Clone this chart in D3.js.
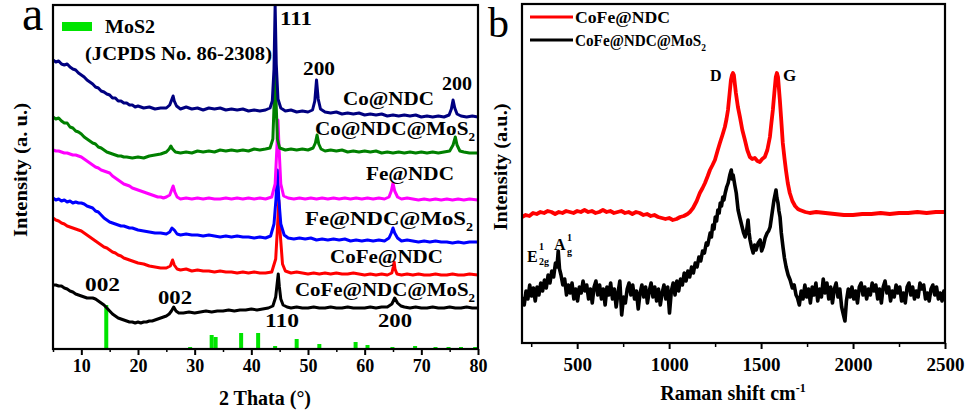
<!DOCTYPE html>
<html><head><meta charset="utf-8">
<script src="https://cdn.jsdelivr.net/npm/d3@7"></script>
<style>
body{margin:0;background:#fff}
svg text{font-family:"Liberation Serif","Times New Roman",serif;fill:#000}
</style>
</head><body>
<svg id="c" width="969" height="417"></svg>
<script>
// ---------- Panel a : XRD ----------
const xrdTicks = [10,20,30,40,50,60,70,80];
const xrdMinor = [5,15,25,35,45,55,65,75];
const coNDC = [[5,289],[5.5,287],[6,288],[6.5,285],[7,284],[7.5,285],[8,282],[8.5,280],[9,279],[9.5,276],[10,274],[10.5,272],[11,269],[11.5,267],[12,265],[12.5,262],[13,261],[13.5,258],[14,257],[14.5,255],[15,254],[15.5,251],[16,251],[16.5,248],[17,248],[17.5,246],[18,246],[18.5,244],[19,244],[19.5,242],[20,243],[21,241],[22,242],[23,240],[24,241],[25,241],[25.6,244],[26,250],[26.2,253],[26.4,248],[26.8,243],[27.5,240],[28.5,242],[29.5,240],[30.5,241],[31.5,239],[32.5,241],[33.5,240],[34.5,241],[35.5,239],[36.5,240],[37.5,239],[38.5,240],[39.5,238],[40.5,239],[41.5,238],[42.5,239],[43.3,241],[43.7,248],[44.0,280],[44.2,344],[44.4,285],[44.7,250],[45.2,241],[46,238],[47,239],[48,237],[49,238],[50,237],[50.8,239],[51.2,248],[51.5,269],[51.8,250],[52.2,240],[53,237],[54,236],[55,237],[56,235],[57,236],[58,235],[59,236],[60,234],[61,235],[62,234],[63,235],[64,233],[65,234],[66,233],[67,234],[68,233],[69,234],[70,232],[71,233],[72,232],[73,233],[74,232],[74.9,234],[75.3,240],[75.6,249],[75.9,241],[76.3,235],[77,233],[78,232],[79,233],[80,232]];
const coNDCMoS2 = [[5,232],[5.5,230],[6,231],[6.5,228],[7,226],[7.5,226],[8,222],[8.5,221],[9,218],[9.5,217],[10,215],[10.5,212],[11,210],[11.5,208],[12,206],[12.5,205],[13,202],[13.5,201],[14,199],[14.5,197],[15,196],[15.5,195],[16,194],[16.5,193],[17,193],[17.5,192],[18,192],[19,191],[20,192],[21,191],[22,193],[23,194],[24,195],[25,197],[25.5,200],[25.8,203],[26.1,200],[26.6,197],[27.5,196],[28.5,197],[29.5,196],[30.5,198],[31.5,197],[32.5,198],[33.5,197],[34.5,199],[35.5,198],[36.5,199],[37.5,198],[38.5,199],[39.5,198],[40.5,200],[41.5,199],[42.5,200],[43.3,201],[43.8,210],[44.05,250],[44.2,300],[44.35,250],[44.6,210],[45,201],[46,199],[47,200],[48,199],[49,200],[50,199],[50.9,201],[51.3,206],[51.6,214],[51.9,205],[52.3,200],[53,198],[54,199],[55,198],[56,199],[57,197],[58,198],[59,197],[60,198],[61,197],[62,198],[63,196],[64,197],[65,196],[66,197],[67,196],[68,197],[69,196],[70,197],[71,196],[72,197],[73,196],[74,197],[75,198],[75.6,204],[76,212],[76.3,204],[76.8,198],[77.5,197],[78.5,196],[80,196]];
const feNDC = [[5,199],[5.5,198],[6,198],[6.5,197],[7,196],[7.5,196],[8,195],[8.5,194],[9,194],[9.5,193],[10,192],[10.5,190],[11,188],[11.5,186],[12,184],[12.5,182],[13,181],[13.5,179],[14,178],[14.5,177],[15,176],[15.5,173],[16,171],[16.5,169],[17,167],[17.5,165],[18,164],[18.5,163],[19,161],[19.5,160],[20,159],[20.5,158],[21,157],[21.5,156],[22,155],[22.5,154],[23,153],[23.5,152],[24,152],[24.5,151],[25,152],[25.6,154],[26.0,160],[26.2,163],[26.5,157],[26.9,152],[27.5,150],[28.5,151],[29.5,150],[30.5,151],[31.5,150],[32.5,151],[33.5,150],[34.5,150],[35.5,151],[36.5,150],[37.5,151],[38.5,150],[39.5,151],[40.5,150],[41.5,151],[42.5,150],[43.6,152],[44.2,165],[44.5,200],[44.7,229],[44.9,200],[45.2,165],[45.7,153],[46.5,151],[47.5,150],[48.5,151],[49.5,150],[50.5,151],[51.5,150],[52.5,151],[53.5,150],[54.5,151],[55.5,150],[56.5,151],[57.5,150],[58.5,151],[59.5,150],[60.5,151],[61.5,150],[62.5,151],[63.5,150],[64.3,152],[64.7,158],[65.0,166],[65.3,158],[65.8,152],[66.5,150],[67.5,151],[68.5,150],[69.5,149],[70.5,150],[71.5,149],[72.5,150],[73.5,149],[74.5,150],[75.5,149],[76.5,150],[77.5,149],[78.5,150],[80,149]];
const feNDCMoS2 = [[5,151],[5.5,149],[6,150],[6.5,148],[7,149],[7.5,147],[8,148],[8.5,146],[9,147],[9.5,146],[10,146],[10.5,145],[11,143],[11.5,142],[12,141],[12.5,138],[13,137],[13.5,134],[14,131],[14.5,129],[15,127],[15.5,126],[16,125],[16.5,124],[17,123],[17.5,123],[18,122],[18.5,121],[19,121],[19.5,120],[20,119],[21,118],[22,117],[23,116],[24,116],[25,115],[25.6,117],[26.0,121],[26.4,119],[26.9,115],[27.5,114],[28.5,115],[29.5,114],[30.5,114],[31.5,113],[32.5,114],[33.5,113],[34.5,112],[35.5,113],[36.5,112],[37.5,113],[38.5,112],[39.5,112],[40.5,111],[41.5,112],[42.5,111],[43.4,113],[44.0,125],[44.35,150],[44.6,179],[44.85,150],[45.2,125],[45.8,114],[46.5,111],[47.5,110],[48.5,111],[49.5,110],[50.5,111],[51.5,109],[52.5,110],[53.5,109],[54.5,110],[55.5,109],[56.5,110],[57.5,108],[58.5,109],[59.5,108],[60.5,109],[61.5,108],[62.5,109],[63.5,108],[64.3,111],[64.7,116],[65.0,121],[65.3,116],[65.8,111],[66.5,108],[67.5,109],[68.5,108],[69.5,107],[70.5,108],[71.5,107],[72.5,108],[73.5,107],[74.5,107],[75.5,106],[76.5,107],[77.5,106],[78.5,107],[80,107]];
const coFeNDC = [[5,131],[5.5,129],[6,128],[6.5,126],[7,125],[7.5,123],[8,122],[8.5,121],[9,120],[9.5,119],[10,118],[10.5,116],[11,114],[11.5,112],[12,110],[12.5,108],[13,106],[13.5,104],[14,102],[14.5,101],[15,99],[15.5,97],[16,96],[16.5,94],[17,93],[17.5,91],[18,90],[18.5,89],[19,88],[19.5,87],[20,86],[21,85],[22,83],[23,82],[24,81],[25,81],[25.7,83],[26.1,89],[26.4,84],[26.9,80],[27.5,79],[28.5,80],[29.5,78],[30.5,79],[31.5,78],[32.5,78],[33.5,77],[34.5,78],[35.5,77],[36.5,77],[37.5,76],[38.5,77],[39.5,76],[40.5,77],[41.5,76],[42.5,76],[43.6,77],[44.3,90],[44.6,120],[44.85,149],[45.1,115],[45.5,85],[46,78],[47,76],[48,77],[49,76],[50,75],[51,76],[52,75],[53,76],[54,75],[55,76],[56,75],[57,75],[58,76],[59,75],[60,74],[61,75],[62,74],[63,75],[64,74],[64.8,76],[65.05,82],[65.2,87],[65.35,80],[65.7,75],[66.5,74],[67.5,75],[68.5,74],[69.5,75],[70.5,74],[71.5,74],[72.5,75],[73.5,74],[74.5,74],[75.5,75],[76.5,74],[77.5,74],[78.5,75],[80,74]];
const coFeNDCMoS2 = [[5,64],[5.5,64],[6,63],[6.5,63],[7,61],[7.5,60],[8,58],[8.5,57],[9,55],[9.5,54],[10,53],[10.5,52],[11,51],[11.5,51],[12,51],[12.5,50],[13,48],[13.5,46],[14,44],[14.5,41],[15,38],[15.5,35],[16,33],[16.5,31],[17,30],[17.5,29],[18,28],[18.5,27],[19,27],[19.5,26],[20,27],[20.5,26],[21,27],[21.5,27],[22,28],[22.5,28],[23,29],[23.5,30],[24,31],[24.5,32],[25,33],[25.5,35],[25.9,38],[26.3,42],[26.7,38],[27.2,36],[28,36],[29,37],[30,36],[31,37],[32,38],[33,37],[34,38],[35,38],[36,39],[37,38],[38,39],[39,39],[40,40],[41,39],[42,40],[43,41],[43.8,43],[44.3,52],[44.55,65],[44.75,75],[44.95,62],[45.2,50],[45.6,44],[46.3,42],[47,41],[48,42],[49,41],[50,41],[51,42],[52,41],[53,41],[54,42],[55,41],[56,41],[57,42],[58,41],[59,41],[60,41],[61,42],[62,41],[63,42],[64,42],[64.8,45],[65.3,51],[65.8,46],[66.4,43],[67,42],[68,41],[69,42],[70,41],[71,41],[72,42],[73,41],[74,41],[75,42],[76,41],[77,41],[78,42],[79,41],[80,41]];
const mos2Pos = [14.4,29.2,33.0,33.7,38.2,41.2,44.2,48.0,52.0,58.4,60.5,64.9,68.9,72.5,74.8,77.0,79.5];
const mos2Int = [44,2,14,12,16,16,3,10,5,7,4,2,3,2,2,2,2];

// ---------- Panel b : Raman ----------
const ramanTicks = [500,1000,1500,2000,2500];
const ramanMinor = [250,750,1250,1750,2250];
const ramanCoFeNDC = [[200,126],[220,128],[240,127],[260,130],[280,129],[300,131],[320,130],[340,132],[360,131],[380,129],[400,131],[420,130],[440,132],[460,131],[480,130],[500,132],[520,131],[540,133],[560,131],[580,132],[600,130],[620,131],[640,133],[660,131],[680,132],[700,130],[720,131],[740,132],[760,130],[780,131],[800,129],[820,131],[840,130],[860,128],[880,129],[900,127],[920,128],[940,126],[960,125],[980,124],[1000,125],[1020,123],[1040,124],[1060,126],[1080,127],[1100,129],[1113,131],[1130,135],[1150,142],[1167,150],[1182,155],[1195,160],[1210,167],[1222,173],[1236,178],[1249,183],[1263,192],[1276,200],[1290,208],[1303,216],[1312,224],[1320,233],[1328,248],[1336,263],[1342,268],[1347,270],[1352,268],[1358,258],[1363,250],[1374,236],[1385,226],[1398,213],[1412,203],[1425,193],[1439,186],[1452,184],[1466,185],[1480,182],[1493,181],[1506,184],[1520,186],[1534,193],[1548,206],[1556,220],[1564,233],[1572,250],[1580,266],[1586,270],[1592,266],[1602,243],[1610,222],[1618,200],[1627,185],[1635,173],[1645,160],[1656,150],[1670,142],[1685,137],[1700,134],[1711,133],[1740,131],[1765,130],[1800,131],[1850,130],[1900,129],[1950,128],[2000,128],[2050,129],[2100,129],[2150,130],[2200,129],[2250,130],[2300,130],[2350,131],[2400,130],[2450,131],[2500,131]];
const ramanCoFeNDCMoS2 = [[200,46],[212,38],[222,52],[232,44],[242,58],[252,47],[262,55],[272,42],[282,56],[292,48],[302,60],[312,52],[322,63],[332,55],[342,68],[352,60],[362,72],[372,66],[382,80],[390,76],[397,92],[404,74],[412,68],[422,58],[432,64],[442,48],[452,58],[462,50],[472,60],[482,44],[492,54],[502,42],[512,56],[522,50],[532,62],[542,52],[552,58],[562,44],[572,54],[582,40],[592,56],[602,62],[612,48],[622,58],[632,44],[642,54],[652,38],[662,56],[672,48],[682,60],[692,44],[702,54],[712,36],[722,50],[732,62],[742,28],[752,46],[762,40],[772,54],[782,60],[792,48],[802,58],[812,44],[822,52],[832,34],[842,50],[852,58],[862,46],[872,56],[882,40],[892,52],[902,60],[912,46],[922,56],[932,42],[942,54],[952,38],[962,50],[972,58],[982,44],[992,56],[1002,30],[1012,52],[1022,60],[1032,48],[1042,62],[1052,52],[1062,64],[1072,58],[1082,70],[1092,62],[1102,72],[1112,66],[1122,76],[1132,70],[1142,80],[1152,76],[1162,86],[1172,82],[1182,92],[1192,90],[1202,100],[1210,98],[1223,110],[1230,106],[1237,118],[1244,114],[1251,126],[1258,122],[1265,133],[1272,130],[1278,140],[1285,137],[1292,146],[1298,143],[1305,150],[1313,156],[1321,160],[1330,168],[1338,173],[1343,164],[1348,168],[1357,158],[1365,150],[1375,133],[1385,125],[1397,116],[1405,110],[1413,106],[1421,112],[1429,123],[1435,110],[1440,103],[1448,96],[1457,90],[1465,98],[1473,93],[1484,100],[1495,103],[1503,92],[1511,96],[1522,105],[1533,110],[1541,112],[1549,116],[1560,130],[1570,143],[1581,153],[1586,145],[1592,140],[1597,132],[1603,126],[1610,110],[1619,96],[1627,85],[1636,76],[1647,68],[1658,63],[1670,55],[1680,58],[1690,48],[1698,45],[1708,38],[1718,52],[1728,44],[1738,58],[1748,46],[1758,54],[1768,40],[1778,56],[1788,48],[1798,60],[1808,42],[1818,54],[1828,46],[1838,64],[1848,50],[1858,60],[1868,44],[1878,56],[1888,40],[1898,54],[1908,60],[1918,46],[1928,54],[1938,36],[1948,28],[1956,22],[1964,42],[1974,54],[1984,46],[1994,56],[2004,44],[2014,52],[2024,40],[2034,56],[2044,60],[2054,48],[2064,56],[2074,44],[2084,54],[2094,48],[2104,60],[2114,52],[2124,58],[2134,44],[2144,54],[2154,40],[2164,56],[2174,62],[2184,50],[2194,56],[2204,42],[2214,52],[2224,46],[2234,58],[2244,50],[2254,56],[2264,42],[2274,50],[2284,40],[2294,56],[2304,60],[2314,48],[2324,56],[2334,44],[2344,52],[2354,46],[2364,60],[2374,54],[2384,58],[2394,44],[2404,50],[2414,42],[2424,54],[2434,58],[2444,48],[2454,56],[2464,44],[2474,50],[2484,42],[2494,52],[2500,50]];

// ---------- drawing ----------
const svg = d3.select("#c");
const FONT = '"Liberation Serif","Times New Roman",serif';

function frame(g, x0, y0, x1, y1){
  g.append("rect").attr("x",x0).attr("y",y0).attr("width",x1-x0).attr("height",y1-y0)
   .attr("fill","none").attr("stroke","#000").attr("stroke-width",2.2);
}
function label(g, txt, x, y, size, len, sub){
  const t = g.append("text").attr("x",x).attr("y",y).attr("font-size",size).style("font-weight","bold");
  t.append("tspan").text(txt);
  if(sub){ t.append("tspan").attr("dy",size*0.3).attr("font-size",size*0.62).text(sub); }
  if(len) t.attr("textLength",len).attr("lengthAdjust","spacingAndGlyphs");
  return t;
}

// Panel a
const xA = d3.scaleLinear([5,80],[53,478]);
const yA = d3.scaleLinear([0,344],[349,5]);
const gA = svg.append("g");
gA.append("clipPath").attr("id","clipA").append("rect").attr("x",53).attr("y",5).attr("width",425).attr("height",344);
const plotA = gA.append("g").attr("clip-path","url(#clipA)");
plotA.selectAll("rect.ref").data(mos2Pos).join("rect").attr("class","ref")
  .attr("x",d=>xA(d)-2).attr("width",4)
  .attr("y",(d,i)=>yA(mos2Int[i])).attr("height",(d,i)=>yA(0)-yA(mos2Int[i]))
  .attr("fill","#00e400");
const lineA = d3.line().x(d=>xA(d[0])).y(d=>yA(d[1]));
const seriesA = [
  [coFeNDCMoS2,"#000000"],[coFeNDC,"#ff0000"],[feNDCMoS2,"#0000ff"],
  [feNDC,"#ff00ff"],[coNDCMoS2,"#008000"],[coNDC,"#000080"]];
seriesA.forEach(([d,c])=>plotA.append("path").attr("d",lineA(d)).attr("fill","none")
  .attr("stroke",c).attr("stroke-width",3).attr("stroke-linejoin","round"));
frame(gA,53,5,478,349);
const axA = gA.append("g").attr("transform","translate(0,349)")
  .call(d3.axisBottom(xA).tickValues(xrdTicks).tickSize(6).tickPadding(4).tickFormat(d3.format("d")));
axA.select(".domain").remove();
axA.selectAll("line").attr("stroke-width",2);
axA.selectAll("text").attr("font-size",18).attr("font-family",FONT).style("font-weight","bold").attr("fill","#000");
const axA2 = gA.append("g").attr("transform","translate(0,349)")
  .call(d3.axisBottom(xA).tickValues(xrdMinor).tickSize(3).tickFormat(""));
axA2.select(".domain").remove(); axA2.selectAll("line").attr("stroke-width",1.5);

gA.append("text").attr("x",265).attr("y",405).attr("text-anchor","middle").attr("font-size",20).style("font-weight","bold").text("2 Thata (°)");
gA.append("text").attr("transform","translate(27,170) rotate(-90)").attr("text-anchor","middle").style("font-weight","bold")
  .attr("font-size",19).attr("textLength",134).attr("lengthAdjust","spacingAndGlyphs").text("Intensity (a. u.)");
gA.append("text").attr("x",22).attr("y",30).attr("font-size",48).style("font-weight","normal").text("a");
// legend
gA.append("rect").attr("x",62).attr("y",22).attr("width",30).attr("height",9).attr("fill","#00e400");
label(gA,"MoS2",105,33,18,50);
label(gA,"(JCPDS No. 86-2308)",85,60,18,187);
// annotations
label(gA,"111",280,25,19,32);
label(gA,"200",303,75,19,32);
label(gA,"Co@NDC",343,105,19,91);
label(gA,"200",442,90,19,30);
label(gA,"Co@NDC@MoS",315,135,19,160,"2");
label(gA,"Fe@NDC",366,180,19,88);
label(gA,"Fe@NDC@MoS",305,225,19,168,"2");
label(gA,"CoFe@NDC",330,263,19,113);
label(gA,"CoFe@NDC@MoS",295,296,19,180,"2");
label(gA,"002",85,291,19,35);
label(gA,"002",158,304,19,34);
label(gA,"110",265,327,19,34);
label(gA,"200",378,327,19,34);

// Panel b
const xB = d3.scaleLinear([200,2500],[522,945]);
const yB = d3.scaleLinear([0,340],[343,3]);
const gB = svg.append("g");
gB.append("clipPath").attr("id","clipB").append("rect").attr("x",522).attr("y",3).attr("width",423).attr("height",340);
const plotB = gB.append("g").attr("clip-path","url(#clipB)");
const lineB = d3.line().x(d=>xB(d[0])).y(d=>yB(d[1]));
plotB.append("path").attr("d",lineB(ramanCoFeNDCMoS2)).attr("fill","none").attr("stroke","#000").attr("stroke-width",3.6).attr("stroke-linejoin","round");
plotB.append("path").attr("d",lineB(ramanCoFeNDC)).attr("fill","none").attr("stroke","#ff0000").attr("stroke-width",3.8).attr("stroke-linejoin","round");
frame(gB,522,4,945,343);
const axB = gB.append("g").attr("transform","translate(0,343)")
  .call(d3.axisBottom(xB).tickValues(ramanTicks).tickSize(6).tickPadding(9).tickFormat(d3.format("d")));
axB.select(".domain").remove();
axB.selectAll("line").attr("stroke-width",2);
axB.selectAll("text").attr("font-size",19).attr("font-family",FONT).style("font-weight","bold").attr("fill","#000");
const axB2 = gB.append("g").attr("transform","translate(0,343)")
  .call(d3.axisBottom(xB).tickValues(ramanMinor).tickSize(4).tickFormat(""));
axB2.select(".domain").remove(); axB2.selectAll("line").attr("stroke-width",1.5);

const tB = gB.append("text").attr("x",733).attr("y",400).attr("text-anchor","middle").attr("font-size",20).style("font-weight","bold");
tB.append("tspan").text("Raman shift cm");
tB.append("tspan").attr("dy",-8).attr("font-size",12).text("-1");
gB.append("text").attr("transform","translate(507,167) rotate(-90)").attr("text-anchor","middle").style("font-weight","bold")
  .attr("font-size",19).attr("textLength",127).attr("lengthAdjust","spacingAndGlyphs").text("Intensity (a.u.)");
gB.append("text").attr("x",488).attr("y",37).attr("font-size",42).style("font-weight","normal").text("b");
// legend
gB.append("line").attr("x1",530).attr("x2",573).attr("y1",17).attr("y2",17).attr("stroke","#ff0000").attr("stroke-width",3);
gB.append("line").attr("x1",530).attr("x2",573).attr("y1",40).attr("y2",40).attr("stroke","#000").attr("stroke-width",3);
label(gB,"CoFe@NDC",575,23,16,95);
label(gB,"CoFe@NDC@MoS",575,46,16,131,"2");
// peak labels
label(gB,"D",710,81,16);
label(gB,"G",783,81,17);
label(gB,"E",527,262,16);
label(gB,"1",539,250,10);
label(gB,"2g",539,265,10);
label(gB,"A",554,250,16);
label(gB,"1",567,241,10);
label(gB,"g",567,255,10);
</script>
</body></html>
